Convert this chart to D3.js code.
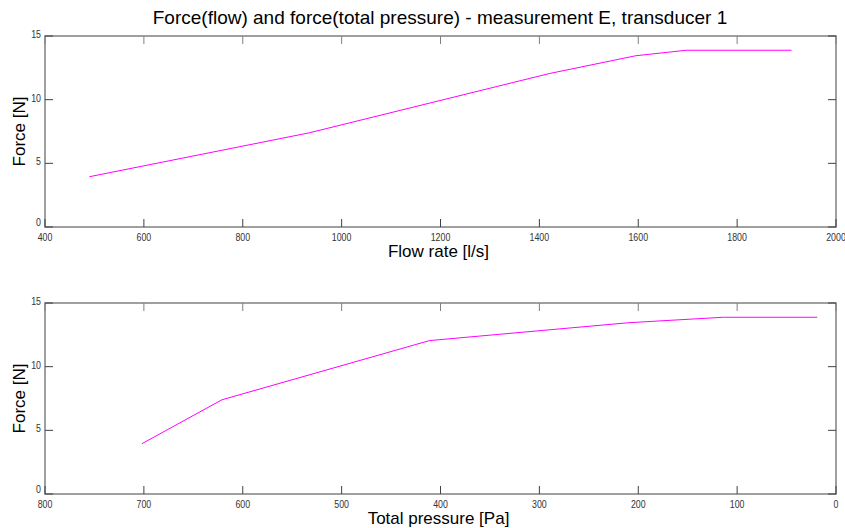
<html>
<head>
<script src="https://d3js.org/d3.v7.min.js"></script>
<style>
  body { margin: 0; background: #fff; }
  text { font-family: "Liberation Sans", Arial, sans-serif; }
</style>
</head>
<body>
<script>
var flowRate = [490, 935, 1420, 1595, 1697, 1910];
var totalPressure = [702, 621, 411, 210, 114, 19];
var force = [3.95, 7.4, 12.05, 13.45, 13.88, 13.88];

var flowTicks = [400, 600, 800, 1000, 1200, 1400, 1600, 1800, 2000];
var pressureTicks = [800, 700, 600, 500, 400, 300, 200, 100, 0];
var forceTicks = [0, 5, 10, 15];

var svg = d3.select("body").append("svg").attr("width", 845).attr("height", 528);

var left = 45, right = 836;

svg.append("text")
  .attr("x", 440).attr("y", 24)
  .attr("text-anchor", "middle")
  .attr("font-size", "19px")
  .text("Force(flow) and force(total pressure) - measurement E, transducer 1");

function panel(top, bottom, xDomain, xTicks, xs, xLabel) {
  var x = d3.scaleLinear().domain(xDomain).range([left, right]);
  var y = d3.scaleLinear().domain([0, 15]).range([bottom, top]);
  var g = svg.append("g");

  // box
  g.append("rect")
    .attr("x", left).attr("y", top)
    .attr("width", right - left).attr("height", bottom - top)
    .attr("fill", "none").attr("stroke", "#808080").attr("stroke-width", 1.5);

  // inward ticks on all four sides
  var tk = 8;
  xTicks.forEach(function(t) {
    g.append("line").attr("x1", x(t)).attr("x2", x(t)).attr("y1", bottom).attr("y2", bottom - tk)
      .attr("stroke", "#404040");
    g.append("line").attr("x1", x(t)).attr("x2", x(t)).attr("y1", top).attr("y2", top + tk)
      .attr("stroke", "#808080");
    g.append("text").attr("x", x(t)).attr("y", bottom + 14)
      .attr("text-anchor", "middle").attr("font-size", "10px").attr("fill", "#333")
      .attr("textLength", String(t).length * 4.9).attr("lengthAdjust", "spacingAndGlyphs")
      .text(t);
  });
  forceTicks.forEach(function(t) {
    g.append("line").attr("x1", left).attr("x2", left + tk).attr("y1", y(t)).attr("y2", y(t))
      .attr("stroke", "#404040");
    g.append("line").attr("x1", right).attr("x2", right - tk).attr("y1", y(t)).attr("y2", y(t))
      .attr("stroke", "#404040");
    g.append("text").attr("x", left - 4).attr("y", y(t) + (t == 0 ? -1 : 2))
      .attr("text-anchor", "end").attr("font-size", "10px").attr("fill", "#333")
      .attr("textLength", String(t).length * 4.9).attr("lengthAdjust", "spacingAndGlyphs")
      .text(t);
  });

  var line = d3.line()
    .x(function(d) { return x(d[0]); })
    .y(function(d) { return y(d[1]); });
  var pts = xs.map(function(v, i) { return [v, force[i]]; });
  g.append("path").attr("d", line(pts))
    .attr("fill", "none").attr("stroke", "#ff00ff").attr("stroke-width", 1);

  g.append("text").attr("x", (left + right) / 2 - 2).attr("y", bottom + 30)
    .attr("text-anchor", "middle").attr("font-size", "17px").text(xLabel);
  g.append("text")
    .attr("transform", "translate(25," + ((top + bottom) / 2) + ") rotate(-90)")
    .attr("text-anchor", "middle").attr("font-size", "17px").text("Force [N]");
}

panel(36, 227, [400, 2000], flowTicks, flowRate, "Flow rate [l/s]");
panel(303, 494, [800, 0], pressureTicks, totalPressure, "Total pressure [Pa]");
</script>
</body>
</html>
